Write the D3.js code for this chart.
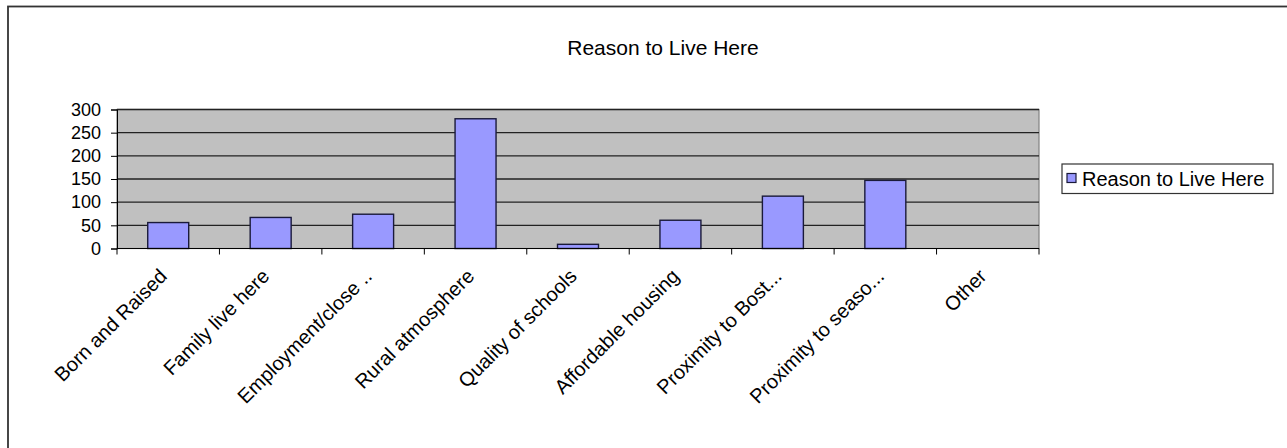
<!DOCTYPE html>
<html>
<head>
<meta charset="utf-8">
<script src="https://cdn.jsdelivr.net/npm/d3@7"></script>
<style>
  body { margin: 0; background: #fff; }
  svg { display: block; }
  text { font-family: "Liberation Sans", Arial, sans-serif; fill: #000; }
</style>
</head>
<body>
<svg id="chart" width="1287" height="448"></svg>
<script>
const categories = ["Born and Raised", "Family live here", "Employment/close ..", "Rural atmosphere",
  "Quality of schools", "Affordable housing", "Proximity to Bost...", "Proximity to seaso...", "Other"];
const values = [56, 67, 74, 280, 9, 61, 113, 147, 0];
const yTicks = [0, 50, 100, 150, 200, 250, 300];
const seriesName = "Reason to Live Here";
const title = "Reason to Live Here";

const svg = d3.select("#chart");
const plot = { left: 117, top: 109.5, right: 1039, bottom: 248.5 };

// chart border (only top and left visible within the picture)
svg.append("rect").attr("x", 8).attr("y", 6.5).attr("width", 1400).attr("height", 600)
  .attr("fill", "none").attr("stroke", "#333").attr("stroke-width", 1.8);

const x = d3.scaleBand().domain(categories).range([plot.left, plot.right]).paddingInner(0).paddingOuter(0);
const y = d3.scaleLinear().domain([0, 300]).range([plot.bottom, plot.top]);

// plot background
svg.append("rect").attr("x", plot.left).attr("y", plot.top)
  .attr("width", plot.right - plot.left).attr("height", plot.bottom - plot.top)
  .attr("fill", "#C0C0C0").attr("stroke", "#808080").attr("stroke-width", 1.2);

// gridlines
svg.append("g").selectAll("line").data(yTicks.filter(d => d > 0)).join("line")
  .attr("x1", plot.left).attr("x2", plot.right)
  .attr("y1", d => y(d)).attr("y2", d => y(d))
  .attr("stroke", "#222").attr("stroke-width", 1.4);

// bars
const bw = x.bandwidth() / 2.5;
svg.append("g").selectAll("rect").data(categories.map((c, i) => ({ c, v: values[i] })).filter(d => d.v > 0)).join("rect")
  .attr("x", d => x(d.c) + (x.bandwidth() - bw) / 2)
  .attr("y", d => y(d.v))
  .attr("width", bw)
  .attr("height", d => y(0) - y(d.v))
  .attr("fill", "#9999FF").attr("stroke", "#1a1a3a").attr("stroke-width", 1.4);

// y axis
const yAxis = d3.axisLeft(y).tickValues(yTicks).tickSize(6).tickPadding(10).tickFormat(d3.format("d"));
const gy = svg.append("g").attr("transform", `translate(${plot.left},0)`).call(yAxis);
gy.select(".domain").attr("stroke", "#000");
gy.selectAll(".tick line").attr("stroke", "#000");
gy.selectAll(".tick text").attr("font-size", 18).attr("font-family", "Liberation Sans, Arial, sans-serif").attr("fill", "#000");

// x axis line + ticks at band boundaries
const boundaries = categories.map(c => x(c)).concat([plot.right]);
svg.append("line").attr("x1", plot.left).attr("x2", plot.right)
  .attr("y1", plot.bottom).attr("y2", plot.bottom).attr("stroke", "#000").attr("stroke-width", 1.2);
svg.append("g").selectAll("line").data(boundaries).join("line")
  .attr("x1", d => d).attr("x2", d => d)
  .attr("y1", plot.bottom).attr("y2", plot.bottom + 6)
  .attr("stroke", "#000");

// x labels rotated
svg.append("g").selectAll("text").data(categories).join("text")
  .attr("transform", d => `translate(${x(d) + x.bandwidth() / 2},${plot.bottom + 29}) rotate(-45)`)
  .attr("text-anchor", "end")
  .attr("font-size", 20)
  .text(d => d);

// title
svg.append("text").attr("x", 663).attr("y", 55)
  .attr("text-anchor", "middle").attr("font-size", 21).text(title);

// legend
const lg = svg.append("g");
lg.append("rect").attr("x", 1062).attr("y", 164).attr("width", 211).attr("height", 29.5)
  .attr("fill", "#fff").attr("stroke", "#333").attr("stroke-width", 1.2);
lg.append("rect").attr("x", 1067).attr("y", 173.5).attr("width", 9).attr("height", 9)
  .attr("fill", "#9999FF").attr("stroke", "#1a1a3a").attr("stroke-width", 1.2);
lg.append("text").attr("x", 1082).attr("y", 186).attr("font-size", 20).text(seriesName);
</script>
</body>
</html>
